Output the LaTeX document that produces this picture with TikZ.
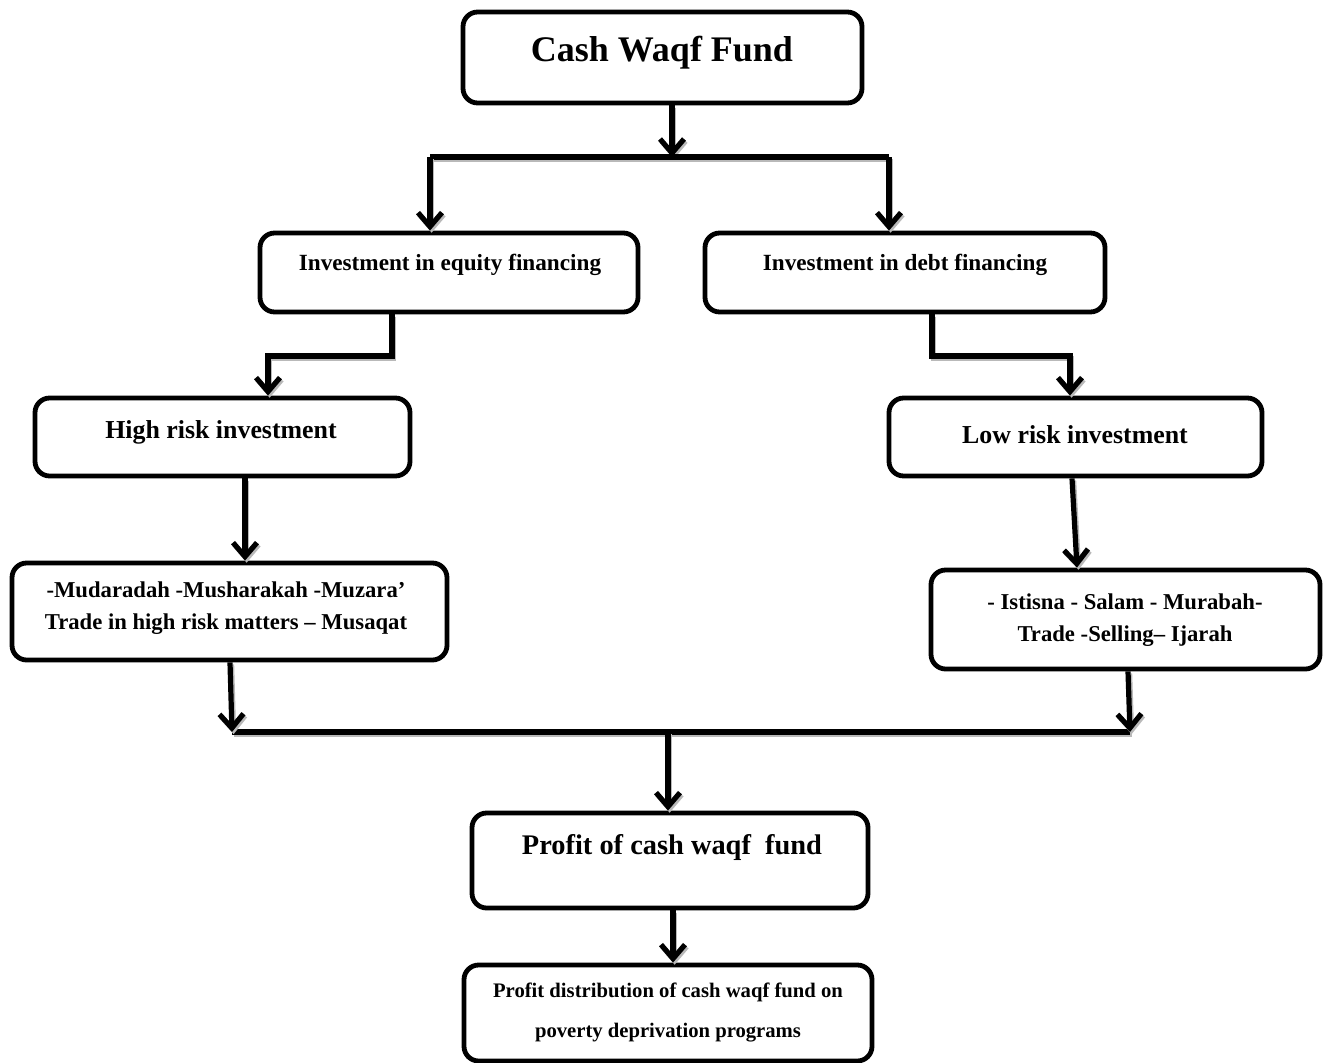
\documentclass[tikz,border=0pt]{standalone}
\usepackage{fontspec}
\setmainfont{Liberation Serif}
\usetikzlibrary{arrows.meta,calc}
\begin{document}
\begin{tikzpicture}[x=0.75pt,y=-0.75pt,
 box/.style={draw, line width=3.6pt, rounded corners=11pt, inner sep=0pt, fill=white},
 lbl/.style={font=\bfseries, align=center, inner sep=0pt},
 conn/.style={line width=3.9pt, preaction={draw=gray!55, line width=3.9pt, transform canvas={shift={(1.2pt,-1.6pt)}}}},
 arr/.style={conn, -{Straight Barb[length=10.5pt,width=18pt]}}
]
\useasboundingbox[fill=white] (0,0) rectangle (1324,1063);

% boxes
\node[box, minimum width=299.25pt, minimum height=68.25pt] (cash) at (662.5,57.5) {};
\node[box, minimum width=283.5pt, minimum height=59.25pt] (eq) at (449,272.5) {};
\node[box, minimum width=300pt, minimum height=59.25pt] (debt) at (905,272.5) {};
\node[box, minimum width=281.25pt, minimum height=58.5pt] (high) at (222.5,437) {};
\node[box, minimum width=279.75pt, minimum height=58.5pt] (low) at (1075.5,437) {};
\node[box, minimum width=326.25pt, minimum height=72.75pt] (mud) at (229.5,611.5) {};
\node[box, minimum width=291.75pt, minimum height=74.25pt] (ist) at (1125.5,619.5) {};
\node[box, minimum width=297pt, minimum height=71.25pt] (profit) at (670,860.5) {};
\node[box, minimum width=306pt, minimum height=72pt] (dist) at (668,1013) {};

% labels
\node[lbl, font=\bfseries\fontsize{27}{32}\selectfont] (tcash) at (662,53) {Cash Waqf Fund};
\node[lbl, font=\bfseries\fontsize{17.4}{21}\selectfont] (teq) at (450,265) {Investment in equity financing};
\node[lbl, font=\bfseries\fontsize{17.4}{21}\selectfont] (tdebt) at (905,265) {Investment in debt financing};
\node[lbl, font=\bfseries\fontsize{19.4}{23}\selectfont] (thigh) at (221,432) {High risk investment};
\node[lbl, font=\bfseries\fontsize{19.4}{23}\selectfont] (tlow) at (1075,435) {Low risk investment};
\node[lbl, font=\bfseries\fontsize{17}{24}\selectfont] (tmud) at (226,608) {-Mudaradah -Musharakah -Muzara’\\Trade in high risk matters – Musaqat};
\node[lbl, font=\bfseries\fontsize{17}{24}\selectfont] (tist) at (1125,620) {- Istisna - Salam - Murabah-\\Trade -Selling– Ijarah};
\node[lbl, font=\bfseries\fontsize{21.3}{26}\selectfont] (tprofit) at (672,848) {Profit of cash waqf\ \ fund};
\node[lbl, font=\bfseries\fontsize{15.5}{30}\selectfont] (tdist) at (668,1012) {Profit distribution of cash waqf fund on\\poverty deprivation programs};

% junction coordinates
\coordinate (j0) at (672,157);
\coordinate (jl) at (430,157);
\coordinate (jr) at (889,157);
\coordinate (el) at (392,356);
\coordinate (hl) at (268,356);
\coordinate (er) at (932,356);
\coordinate (hr) at (1070,356);
\coordinate (ml) at (232,732);
\coordinate (mr) at (1130,732);
\coordinate (mc) at (668,732);

% connectors
\draw[arr] (cash.south -| j0) -- (j0);
\draw[conn] (jl) -- (jr);
\draw[arr] (jl) -- (jl |- eq.north);
\draw[arr] (jr) -- (jr |- debt.north);
\draw[arr] (eq.south -| el) -- (el) -- (hl) -- (hl |- high.north);
\draw[arr] (debt.south -| er) -- (er) -- (hr) -- (hr |- low.north);
\draw[arr] ($(high.south)+(22.5,0)$) -- ($(mud.north)+(15.5,0)$);
\draw[arr] ($(low.south)+(-3.5,0)$) -- ($(ist.north)+(-48.5,0)$);
\draw[conn] (ml) -- (mr);
\draw[arr] ($(mud.south)+(0.5,0)$) -- (ml);
\draw[arr] ($(ist.south)+(2.5,0)$) -- (mr);
\draw[arr] (mc) -- (mc |- profit.north);
\draw[arr] ($(profit.south)+(3,0)$) -- ($(dist.north)+(5,0)$);
\end{tikzpicture}
\end{document}
